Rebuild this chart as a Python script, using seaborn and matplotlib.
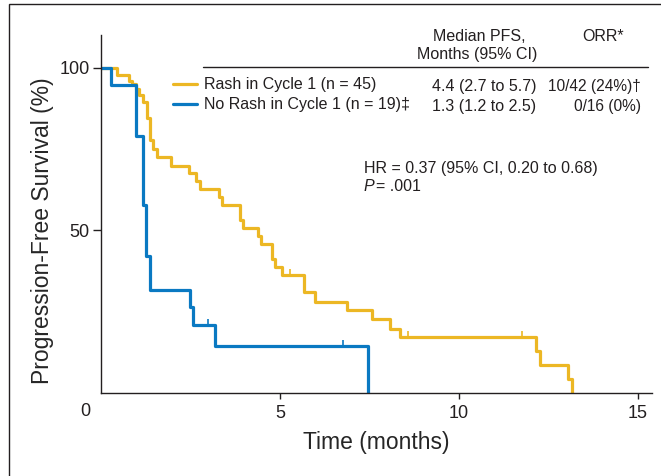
import numpy as np
import pandas as pd
import matplotlib
matplotlib.use("Agg")
import matplotlib.pyplot as plt
import seaborn as sns
from matplotlib.lines import Line2D
from matplotlib.patches import Rectangle

# Kaplan-Meier steps (time in months, PFS in %)
rash_t = [0, 0.46, 0.78, 0.87, 0.97, 1.06, 1.18, 1.28, 1.37, 1.46, 1.56, 1.95,
          2.46, 2.65, 2.76, 3.30, 3.38, 3.89, 3.97, 4.38, 4.48, 4.78, 4.87,
          5.06, 5.67, 5.97, 6.88, 7.58, 8.09, 8.37, 12.16, 12.26, 13.06, 13.17]
rash_s = [100, 97.8, 96.0, 95.0, 93.5, 91.5, 89.5, 84.5, 77.6, 75.0, 72.5, 69.7,
          67.5, 65.1, 62.6, 60.2, 57.8, 53.1, 50.6, 48.2, 45.7, 41.1, 38.6,
          36.2, 31.1, 28.1, 25.5, 22.7, 19.8, 17.1, 12.8, 8.7, 4.3, 0]
rash_cens_t = [5.27, 8.58, 11.77]
rash_cens_s = [36.2, 17.1, 17.1]

norash_t = [0, 0.27, 0.97, 1.17, 1.27, 1.37, 2.48, 2.57, 3.18, 7.47]
norash_s = [100, 94.7, 78.9, 57.9, 42.1, 31.6, 26.3, 21.0, 14.3, 0]
norash_cens_t = [2.98, 6.76]
norash_cens_s = [21.0, 14.3]

groups = ["Rash in Cycle 1 (n = 45)", "No Rash in Cycle 1 (n = 19)\u2021"]
median_pfs = ["4.4 (2.7 to 5.7)", "1.3 (1.2 to 2.5)"]
orr = ["10/42 (24%)\u2020", "0/16 (0%)"]
x_ticks = [5, 10, 15]
y_ticks = [50, 100]

YELLOW = "#ECB724"
BLUE = "#0A79C2"
INK = "#231F20"

W, H = 661, 476


def px(x, y):
    return x / W, 1 - y / H


sns.set_style("ticks")
plt.rcParams["font.family"] = ["Liberation Sans", "DejaVu Sans"]
plt.rcParams["text.color"] = INK

fig = plt.figure(figsize=(W / 100, H / 100), dpi=100)
ax = fig.add_axes([101 / W, (H - 393) / H, (652 - 101) / W, (393 - 35) / H])

sns.lineplot(x=rash_t, y=rash_s, drawstyle="steps-post", estimator=None, sort=False,
             color=YELLOW, linewidth=2.3, label=groups[0], ax=ax)
sns.lineplot(x=norash_t, y=norash_s, drawstyle="steps-post", estimator=None, sort=False,
             color=BLUE, linewidth=2.3, label=groups[1], ax=ax)
ax.plot(rash_cens_t, rash_cens_s, linestyle="none", marker=2, markersize=4,
        markeredgewidth=1.2, color=YELLOW)
ax.plot(norash_cens_t, norash_cens_s, linestyle="none", marker=2, markersize=4,
        markeredgewidth=1.2, color=BLUE)

ax.set_xlim(0, 15.4)
ax.set_ylim(0, 110)
ax.set_xticks(x_ticks)
ax.set_yticks(y_ticks)
ax.tick_params(axis="y", length=6, width=1, pad=2, labelsize=13, colors=INK)
ax.tick_params(axis="x", length=4, width=1, pad=5, labelsize=13, colors=INK)
for s in ["top", "right"]:
    ax.spines[s].set_visible(False)
for s in ["left", "bottom"]:
    ax.spines[s].set_linewidth(1.0)
    ax.spines[s].set_color(INK)

ax.set_xlabel("Time (months)", fontsize=16.5, labelpad=6)
ax.set_ylabel("Progression-Free Survival (%)", fontsize=16.5)
ax.yaxis.set_label_coords(-0.085, 50 / 110)
ax.annotate("0", xy=(0, 0), xytext=(-16, -19), textcoords="offset pixels",
            ha="center", va="center", fontsize=13, color=INK)

leg = ax.legend(loc="upper left", bbox_to_anchor=px(173, 77.5), bbox_transform=fig.transFigure,
                frameon=False, fontsize=11.5, handlelength=1.5, handletextpad=0.45,
                borderpad=0, borderaxespad=0, labelspacing=0.3)
for h in leg.get_lines():
    h.set_linewidth(2.3)

# table header and rule
fig.text(*px(479, 41), "Median PFS,", ha="center", va="baseline", fontsize=11.5)
fig.text(*px(477, 59.5), "Months (95% CI)", ha="center", va="baseline", fontsize=11.5)
fig.text(*px(582, 41), "ORR*", ha="left", va="baseline", fontsize=11.5)
fig.add_artist(Line2D([203 / W, 648 / W], [1 - 66.7 / H] * 2, color=INK, lw=1.0))

row_y = [90.5, 111]
for i in range(2):
    fig.text(*px(432, row_y[i]), median_pfs[i], ha="left", va="baseline", fontsize=11.5)
    fig.text(*px(641, row_y[i]), orr[i], ha="right", va="baseline", fontsize=11.2)

fig.text(*px(363.5, 172.5), "HR = 0.37 (95% CI, 0.20 to 0.68)", ha="left", va="baseline",
         fontsize=11.5)
fig.text(*px(363.5, 191), "P", ha="left", va="baseline", fontsize=11.5, style="italic")
fig.text(*px(376.5, 191), "= .001", ha="left", va="baseline", fontsize=11.5)

# outer frame (only left and top edges fall inside the picture)
fig.patches.append(Rectangle((9 / W, -0.2), 1.2, 1.2 - 4 / H, transform=fig.transFigure,
                             fill=False, edgecolor=INK, linewidth=1.0, clip_on=False))

fig.savefig("out.png", dpi=100)
